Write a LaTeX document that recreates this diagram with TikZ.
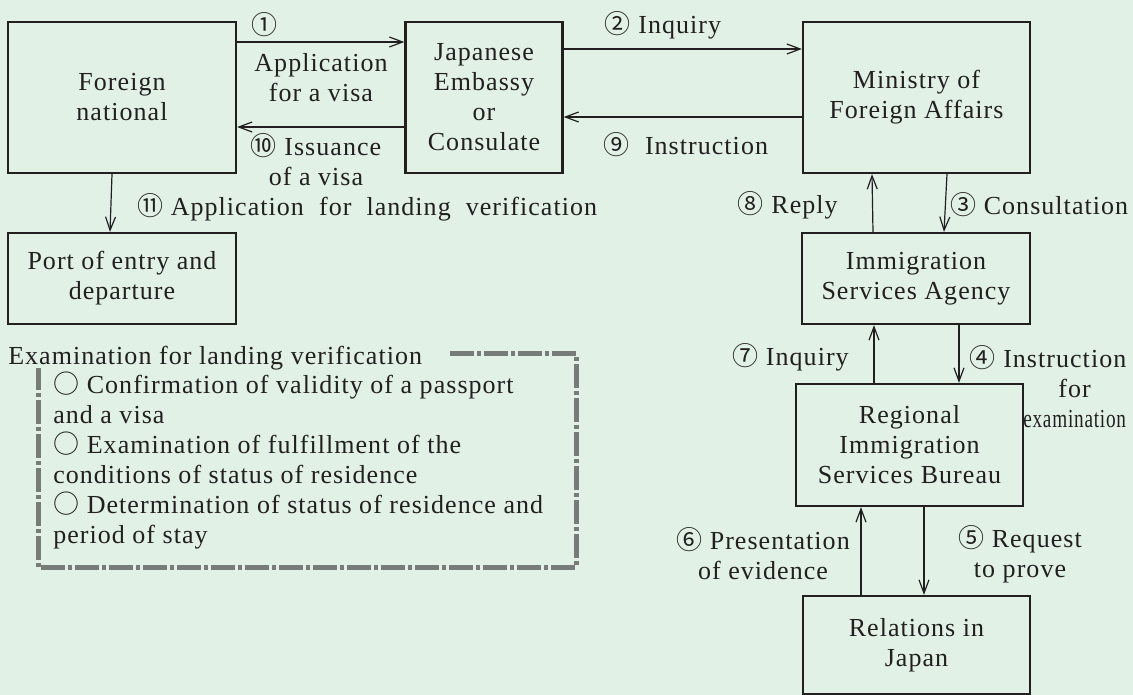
\documentclass[tikz,border=0pt]{standalone}
\usepackage{fontspec}
\usepackage{graphicx}
\setmainfont{Liberation Serif}[LetterSpace=4]
\newfontfamily\cjk{Noto Sans CJK JP}
\usetikzlibrary{arrows.meta}
\usetikzlibrary{positioning}

\definecolor{mintbg}{HTML}{E1F1E6}
\definecolor{inkline}{HTML}{231F20}
\definecolor{framegray}{HTML}{787C78}

\newcommand{\cn}[1]{{\cjk #1}}

\tikzset{
    office/.style={
      rectangle,
           draw=inkline, line width=1.7pt,
           inner sep=2pt,
           align=center,
           minimum width=171pt,
           minimum height=113.25pt,
           },
}
\tikzset{
    agency/.style={
      rectangle,
           draw=inkline, line width=1.7pt,
           inner sep=2pt,
           align=center,
           minimum width=171pt,
           minimum height=68.25pt,
           },
}
\tikzset{
    lbl/.style={
           inner sep=0pt,
           align=center,
           },
}
\tikzset{
    flow/.style={
           ->, draw=inkline, line width=0.9pt,
           },
}

\begin{document}
\begin{tikzpicture}[x=0.75pt,y=-0.75pt,font=\fontsize{19.5}{22.5}\selectfont,text=inkline,
  >={Straight Barb[length=10pt,width=7.5pt]}]

\path[use as bounding box,fill=mintbg] (0,0) rectangle (1133,695);

%offices abroad
\node[office](fn) at (122,97.5){Foreign\\national};
\node[office,minimum width=117.75pt](emb) at (484,97.5){Japanese\\Embassy\\or\\Consulate};
\node[office,minimum width=170.25pt](mofa) at (916.5,97.5){Ministry of\\Foreign Affairs};

\path (fn.east |- 0,42) edge[flow](emb.west |- 0,42);
\path (emb.west |- 0,127) edge[flow](fn.east |- 0,127);
\path (emb.east |- 0,49) edge[flow](mofa.west |- 0,49);
\path (mofa.west |- 0,117) edge[flow](emb.east |- 0,117);

\node[lbl](l1) at (264,25){\cn{①}};
\node[lbl](lapp) at (321,78){Application\\for a visa};
\node[lbl](l10) at (316,160){\cn{⑩} Issuance\\of a visa};
\node[lbl](l2) at (663,25){\cn{②} Inquiry};
\node[lbl](l9) at (686,145){\cn{⑨}\ \ Instruction};

%landing
\node[agency](port) at (122,278.5){Port of entry and\\departure};
\path (fn.south -| 112,0) edge[flow](port.north -| 110,0);
\node[lbl,anchor=west](l11) at (137,207){\cn{⑪} Application\ \ for\ \ landing\ \ verification};

%immigration side
\node[agency](isa) at (916,278.5){Immigration\\Services Agency};
\node[agency,minimum width=170.25pt,minimum height=91.5pt](risb) at (909.5,445){Regional\\Immigration\\Services Bureau};
\node[agency,minimum width=170.25pt,minimum height=73.5pt](rel) at (916.5,645){Relations in\\Japan};

\path (isa.north -| 873,0) edge[flow](mofa.south -| 872,0);
\path (mofa.south -| 947,0) edge[flow](isa.north -| 944,0);
\path (risb.north -| 874,0) edge[flow](isa.south -| 874,0);
\path (isa.south -| 959,0) edge[flow](risb.north -| 959,0);
\path (rel.north -| 861,0) edge[flow](risb.south -| 861,0);
\path (risb.south -| 924,0) edge[flow](rel.north -| 924,0);

\node[lbl,anchor=east](l8) at (838,205){\cn{⑧} Reply};
\node[lbl,anchor=west](l3) at (950,205){\cn{③} Consultation};
\node[lbl,anchor=east](l7) at (849,357){\cn{⑦} Inquiry};
\node[lbl](l4) at (1048,387){\cn{④} Instruction\\\hspace*{40pt}for\\\hspace*{40pt}\scalebox{0.74}[1]{examination}};
\node[lbl](l6) at (763,554){\cn{⑥} Presentation\\of evidence};
\node[lbl](l5) at (1020,554){\cn{⑤} Request\\to prove};

%examination frame
\node[lbl,anchor=base west](exam) at (8,365){Examination for landing verification};
\node[lbl,anchor=base west,align=left](checks) at (53,543){{\cjk ○} Confirmation of validity of a passport\\and a visa\\{\cjk ○} Examination of fulfillment of the\\conditions of status of residence\\{\cjk ○} Determination of status of residence and\\period of stay};
\coordinate (fa) at (450,354);
\coordinate (fb) at (38,368);
\draw[framegray,line width=3.75pt,dash pattern=on 18pt off 2.5pt on 2.5pt off 2.5pt]
  (fa) -- (576,354) -- (576,567) -- (38,567) -- (fb);

\end{tikzpicture}
\end{document}
